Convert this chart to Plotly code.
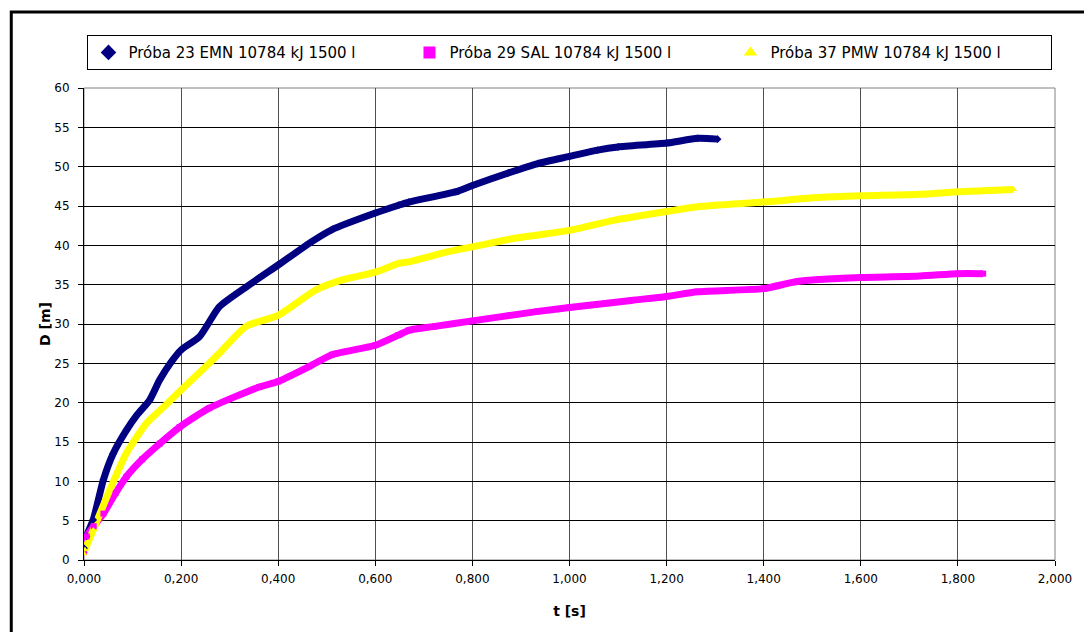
import plotly.graph_objects as go

# ---- data ----
names = ["Próba 23 EMN 10784 kJ 1500 l", "Próba 29 SAL 10784 kJ 1500 l", "Próba 37 PMW 10784 kJ 1500 l"]

t_emn = [0, 0.005, 0.019, 0.040, 0.060, 0.0875, 0.110, 0.135, 0.156, 0.180, 0.200, 0.238, 0.279,
         0.334, 0.400, 0.470, 0.511, 0.600, 0.648, 0.669, 0.771, 0.800, 0.874, 0.935, 1.000, 1.058,
         1.100, 1.200, 1.264, 1.305]
d_emn = [1.5, 3.0, 5.1, 10.2, 13.5, 16.5, 18.5, 20.3, 22.9, 25.2, 26.7, 28.4, 32.2,
         34.7, 37.5, 40.5, 42.0, 44.1, 45.1, 45.5, 46.9, 47.6, 49.2, 50.4, 51.3, 52.1,
         52.5, 53.0, 53.6, 53.5]

t_sal = [0, 0.0055, 0.020, 0.040, 0.065, 0.0875, 0.120, 0.156, 0.197, 0.258, 0.361, 0.400,
         0.464, 0.511, 0.600, 0.648, 0.669, 0.723, 0.800, 0.935, 1.000, 1.127, 1.200, 1.264,
         1.400, 1.469, 1.600, 1.722, 1.800, 1.852]
d_sal = [1.0, 3.0, 4.3, 5.9, 8.5, 10.6, 12.8, 14.8, 16.9, 19.3, 22.0, 22.7,
         24.6, 26.1, 27.3, 28.6, 29.2, 29.7, 30.4, 31.6, 32.1, 33.0, 33.5, 34.1,
         34.5, 35.4, 35.9, 36.1, 36.4, 36.4]

t_pmw = [0, 0.002, 0.019, 0.053, 0.0875, 0.129, 0.149, 0.170, 0.200, 0.258, 0.279, 0.334,
         0.400, 0.477, 0.532, 0.600, 0.648, 0.669, 0.751, 0.800, 0.887, 1.000, 1.093, 1.200,
         1.264, 1.400, 1.517, 1.600, 1.722, 1.800, 1.915]
d_pmw = [0.8, 1.3, 3.8, 8.9, 13.6, 17.4, 18.6, 19.8, 21.6, 25.0, 26.3, 29.7,
         31.1, 34.3, 35.6, 36.6, 37.7, 37.9, 39.2, 39.8, 40.9, 41.9, 43.2, 44.3,
         44.9, 45.5, 46.1, 46.3, 46.5, 46.8, 47.1]

colors = ["#000080", "#FF00FF", "#FFFF00"]
symbols = ["diamond", "square", "triangle-up"]

series = [(t_emn, d_emn), (t_sal, d_sal), (t_pmw, d_pmw)]

fig = go.Figure()
# thick bands (dense markers in original)
for (tx, dy), c in zip(series, colors):
    fig.add_trace(go.Scatter(x=tx, y=dy, mode="lines",
                             line=dict(color=c, width=7, shape="spline", smoothing=0.6),
                             showlegend=False, hoverinfo="skip"))
for (tx, dy), c, s, n in zip(series, colors, symbols, names):
    fig.add_trace(go.Scatter(x=tx, y=dy, mode="markers", name=n,
                             marker=dict(color=c, symbol=s, size=6, line=dict(width=0))))

font = "DejaVu Sans, Verdana, sans-serif"

fig.update_layout(
    width=1084, height=632,
    margin=dict(l=84, r=25, t=88, b=72),
    paper_bgcolor="white", plot_bgcolor="white",
    separators=", ",
    font=dict(family=font, size=12, color="#000000"),
    legend=dict(orientation="h", x=0.5005, xanchor="center", y=1.112, yanchor="top",
                bordercolor="#000000", borderwidth=1, bgcolor="white",
                font=dict(family=font, size=15, color="#000000"),
                entrywidth=276, itemsizing="constant", tracegroupgap=0),
    xaxis=dict(range=[0, 2], dtick=0.2, tick0=0, tickformat=".3f",
               showgrid=True, gridcolor="#505050", gridwidth=1,
               showline=True, linecolor="#000000", linewidth=1,
               ticks="outside", ticklen=5, tickcolor="#000000",
               zeroline=False, ticklabelstandoff=3,
               title=dict(text="<b>t [s]</b>", font=dict(family=font, size=14), standoff=20),
               tickfont=dict(family=font, size=12)),
    yaxis=dict(range=[0, 60], dtick=5, tick0=0,
               showgrid=True, gridcolor="#000000", gridwidth=1,
               showline=True, linecolor="#000000", linewidth=1,
               ticks="outside", ticklen=5, tickcolor="#000000",
               zeroline=False, ticklabelstandoff=6,
               title=dict(text="<b>D [m]</b>", font=dict(family=font, size=14), standoff=0),
               tickfont=dict(family=font, size=12)),
    shapes=[
        dict(type="rect", xref="paper", yref="paper", x0=0, x1=1, y0=0, y1=1,
             line=dict(color="#808080", width=1), layer="below"),
        dict(type="rect", xref="paper", yref="paper", x0=-0.0749, x1=1.2, y0=-0.3, y1=1.161,
             line=dict(color="#000000", width=3)),
    ],
)

fig.write_html("out.html")
